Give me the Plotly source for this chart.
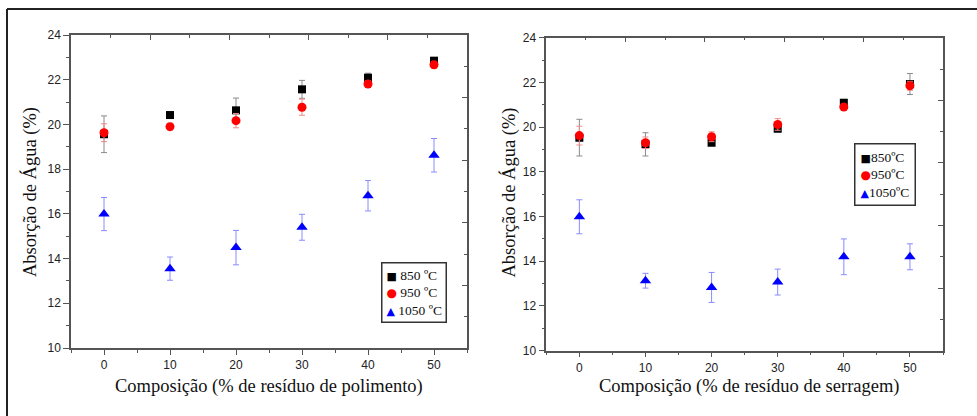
import plotly.graph_objects as go

W, H = 977, 416

comp = [0, 10, 20, 30, 40, 50]

# Left panel: polimento
pol_850 = [19.56, 20.42, 20.63, 21.57, 22.09, 22.85]
pol_850_err = [0.82, 0.12, 0.55, 0.40, 0.20, 0.15]
pol_950 = [19.63, 19.90, 20.17, 20.77, 21.81, 22.67]
pol_950_err = [0.40, 0.15, 0.32, 0.36, 0.15, 0.15]
pol_1050 = [15.99, 13.55, 14.49, 15.40, 16.81, 18.62]
pol_1050_err = [0.74, 0.52, 0.77, 0.58, 0.68, 0.75]

# Right panel: serragem
ser_850 = [19.53, 19.23, 19.30, 19.93, 21.09, 21.93]
ser_850_err = [0.82, 0.52, 0.10, 0.10, 0.15, 0.47]
ser_950 = [19.62, 19.30, 19.57, 20.12, 20.90, 21.85]
ser_950_err = [0.42, 0.26, 0.22, 0.26, 0.10, 0.20]
ser_1050 = [15.99, 13.13, 12.83, 13.07, 14.20, 14.20]
ser_1050_err = [0.76, 0.33, 0.67, 0.58, 0.80, 0.58]

names_left = ["850 ºC", "950 ºC", "1050 ºC"]
names_right = ["850ºC", "950ºC", "1050ºC"]

xtitle_left = "Composição (% de resíduo de polimento)"
xtitle_right = "Composição (% de resíduo de serragem)"
ytitle = "Absorção de Água (%)"

styles = [
    dict(symbol="square", color="#000000", size=8, err="#8a8a8a", glyph="■", gsize=11),
    dict(symbol="circle", color="#ff0000", size=9, err="#f28a8a", glyph="●", gsize=12),
    dict(symbol="triangle-up", color="#0000ff", size=10, err="#8a8aff", glyph="▲", gsize=11),
]

fig = go.Figure()

def add_series(ys, errs, names, xa, ya):
    for y, e, n, s in zip(ys, errs, names, styles):
        fig.add_trace(go.Scatter(
            x=comp, y=y, mode="markers", name=n,
            xaxis=xa, yaxis=ya, showlegend=False,
            marker=dict(symbol=s["symbol"], color=s["color"], size=s["size"],
                        line=dict(width=0)),
            error_y=dict(type="data", array=e, visible=True,
                         color=s["err"], thickness=1, width=3),
        ))

add_series([pol_850, pol_950, pol_1050], [pol_850_err, pol_950_err, pol_1050_err],
           names_left, "x", "y")
add_series([ser_850, ser_950, ser_1050], [ser_850_err, ser_950_err, ser_1050_err],
           names_right, "x2", "y2")

# empty traces to register decorative top/right axes
for xa, ya in [("x3", "y"), ("x", "y3"), ("x4", "y2"), ("x2", "y4")]:
    fig.add_trace(go.Scatter(x=[], y=[], xaxis=xa, yaxis=ya, showlegend=False,
                             hoverinfo="skip"))

axcol = "#555555"
tickfont = dict(family="Liberation Sans, Arial", size=12, color="#222222")

def px_x(p):
    return p / W

def px_y(p):
    return 1 - p / H

dom_left_x = [px_x(71), px_x(467)]
dom_left_y = [px_y(348), px_y(35)]
dom_right_x = [px_x(546.3), px_x(943)]
dom_right_y = [px_y(350.7), px_y(37.7)]

def xaxis_main(domain, anchor):
    return dict(domain=domain, anchor=anchor, range=[-5, 55], dtick=10, tick0=0,
                ticks="outside", ticklen=5, tickwidth=1.2, tickcolor=axcol,
                minor=dict(dtick=5, ticks="outside", ticklen=3, tickwidth=1.2, tickcolor=axcol),
                showline=True, linecolor=axcol, linewidth=1.5, automargin=False,
                showgrid=False, zeroline=False, tickfont=tickfont)

def yaxis_main(domain, anchor):
    return dict(domain=domain, anchor=anchor, range=[10, 24], dtick=2, tick0=10,
                ticks="outside", ticklen=6, tickwidth=1.2, tickcolor=axcol,
                minor=dict(dtick=1, ticks="outside", ticklen=3, tickwidth=1.2, tickcolor=axcol),
                showline=True, linecolor=axcol, linewidth=1.5, automargin=False,
                showgrid=False, zeroline=False, tickfont=tickfont)

def deco_x(overlay, anchor):
    return dict(overlaying=overlay, anchor=anchor, side="top", range=[0, 1],
                dtick=0.2, tick0=0, ticks="inside", ticklen=5, tickwidth=1.2, tickcolor=axcol,
                minor=dict(dtick=0.1, ticks="inside", ticklen=3, tickwidth=1.2, tickcolor=axcol),
                showticklabels=False, showline=True, linecolor=axcol, linewidth=1.5,
                automargin=False, showgrid=False, zeroline=False)

def deco_y(overlay, anchor):
    return dict(overlaying=overlay, anchor=anchor, side="right", range=[0, 1],
                dtick=0.2, tick0=0, ticks="inside", ticklen=5, tickwidth=1.2, tickcolor=axcol,
                minor=dict(dtick=0.1, ticks="inside", ticklen=3, tickwidth=1.2, tickcolor=axcol),
                showticklabels=False, showline=True, linecolor=axcol, linewidth=1.5,
                automargin=False, showgrid=False, zeroline=False)

fig.update_layout(
    width=W, height=H, autosize=False,
    margin=dict(l=0, r=0, t=0, b=0, pad=0, autoexpand=False),
    paper_bgcolor="white", plot_bgcolor="white",
    xaxis=xaxis_main(dom_left_x, "y"),
    yaxis=yaxis_main(dom_left_y, "x"),
    xaxis2=xaxis_main(dom_right_x, "y2"),
    yaxis2=yaxis_main(dom_right_y, "x2"),
    xaxis3=deco_x("x", "y"),
    yaxis3=deco_y("y", "x"),
    xaxis4=deco_x("x2", "y2"),
    yaxis4=deco_y("y2", "x2"),
    showlegend=False,
)

titlefont = dict(family="Liberation Serif, Times New Roman", size=18.5, color="#111111")
annos = [
    dict(text=xtitle_left, x=px_x(269), y=px_y(386), textangle=0),
    dict(text=xtitle_right, x=px_x(749), y=px_y(386), textangle=0),
    dict(text=ytitle, x=px_x(30), y=px_y(192), textangle=-90),
    dict(text=ytitle, x=px_x(508), y=px_y(192.5), textangle=-90),
]
for a in annos:
    fig.add_annotation(xref="paper", yref="paper", showarrow=False,
                       xanchor="center", yanchor="middle", font=titlefont, **a)

# legend boxes (text with coloured symbol glyphs)
def legend_text(names, sep):
    rows = []
    for n, s in zip(names, styles):
        rows.append('<span style="color:%s;font-size:%dpx;font-family:DejaVu Sans">%s</span>%s%s'
                    % (s["color"], s["gsize"], s["glyph"], sep, n))
    return "<br>".join(rows)

legfont = dict(family="Liberation Serif, Times New Roman", size=13.5, color="#111111")
fig.add_annotation(xref="paper", yref="paper", showarrow=False,
                   x=px_x(381), y=px_y(262), xanchor="left", yanchor="top",
                   align="left", text=legend_text(names_left, " "), font=legfont,
                   bgcolor="white", bordercolor="#333333", borderwidth=1.5, borderpad=4)
fig.add_annotation(xref="paper", yref="paper", showarrow=False,
                   x=px_x(854), y=px_y(143), xanchor="left", yanchor="top",
                   align="left", text=legend_text(names_right, ""), font=legfont,
                   bgcolor="white", bordercolor="#333333", borderwidth=1.5, borderpad=5)

# outer frame (top and left edges)
fig.add_shape(type="line", xref="paper", yref="paper",
              x0=px_x(7), x1=1, y0=px_y(9), y1=px_y(9),
              line=dict(color="#222222", width=2))
fig.add_shape(type="line", xref="paper", yref="paper",
              x0=px_x(7), x1=px_x(7), y0=px_y(9), y1=0,
              line=dict(color="#222222", width=2))

fig.write_html("out.html", config={"displayModeBar": False},
               post_script="document.body.style.margin='0px';document.body.style.overflow='hidden';")
